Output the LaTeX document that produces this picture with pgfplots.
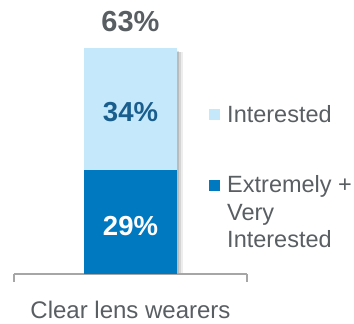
\documentclass[border=0pt]{standalone}
\usepackage{fontspec}
\setmainfont{Liberation Sans}
\usepackage{pgfplots}
\pgfplotsset{compat=1.18}
\definecolor{lightb}{HTML}{C5E8FB}
\definecolor{darkb}{HTML}{0079C1}
\definecolor{txtgray}{HTML}{595E63}
\definecolor{numblue}{HTML}{1A5E8E}
\definecolor{axisgray}{HTML}{A6A6A6}
\begin{document}
\begin{tikzpicture}
\path[use as bounding box] (-14pt,-50pt) rectangle (340pt,274pt);
% soft shadow behind the bar
\begin{axis}[
  scale only axis, width=233pt, height=251pt,
  xmin=0, xmax=1, ymin=0, ymax=70,
  ybar, bar width=93pt, hide axis, clip=false,
]
\addplot[fill=black, draw=none, fill opacity=0.12, bar shift=1.5pt] coordinates {(0.5,62.2)};
\addplot[fill=black, draw=none, fill opacity=0.10, bar shift=3.5pt] coordinates {(0.5,62)};
\addplot[fill=black, draw=none, fill opacity=0.07, bar shift=5.5pt] coordinates {(0.5,61.8)};
\end{axis}
\begin{axis}[
  scale only axis, width=233pt, height=251pt,
  xmin=0, xmax=1, ymin=0, ymax=70,
  ybar stacked, bar width=93pt,
  axis y line=none, axis x line*=bottom,
  xtick={0,1}, xticklabels={}, ytick=\empty,
  major tick length=8pt, tick align=outside, tick pos=bottom,
  x axis line style={draw=axisgray, line width=1.2pt},
  x tick style={draw=axisgray, line width=1.2pt},
  clip=false,
  legend style={at={(axis cs:0.837,47.7)}, anchor=north west, draw=none, fill=none,
    inner sep=0pt, row sep=48pt, column sep=5pt,
    font=\fontsize{23.5}{27.5}\selectfont, text=txtgray},
  legend cell align=left,
  reverse legend,
]
\addplot[fill=darkb, draw=none,
  legend image code/.code={\fill[darkb] (0pt,21.9pt) rectangle (11pt,32.9pt);}]
  coordinates {(0.5,29)};
\addlegendentry[align=left]{Extremely +\\Very\\Interested}
\addplot[fill=lightb, draw=none,
  legend image code/.code={\fill[lightb] (0pt,-5.5pt) rectangle (11pt,5.5pt);}]
  coordinates {(0.5,34)};
\addlegendentry{Interested}
\end{axis}
% value labels on top
\begin{axis}[
  scale only axis, width=233pt, height=251pt,
  xmin=0, xmax=1, ymin=0, ymax=70,
  hide axis, clip=false,
]
\node[font=\bfseries\fontsize{29}{31}\selectfont, text=txtgray, inner sep=0pt] at (axis cs:0.5,70.3) {63\%};
\node[font=\bfseries\fontsize{27.5}{30}\selectfont, text=numblue, inner sep=0pt] at (axis cs:0.5,45.2) {34\%};
\node[font=\bfseries\fontsize{27.5}{30}\selectfont, text=white, inner sep=0pt] at (axis cs:0.5,13.4) {29\%};
\node[font=\fontsize{24}{27}\selectfont, text=txtgray, inner sep=0pt, yshift=-35.5pt] at (axis cs:0.5,0) {Clear lens wearers};
\end{axis}
\end{tikzpicture}
\end{document}
